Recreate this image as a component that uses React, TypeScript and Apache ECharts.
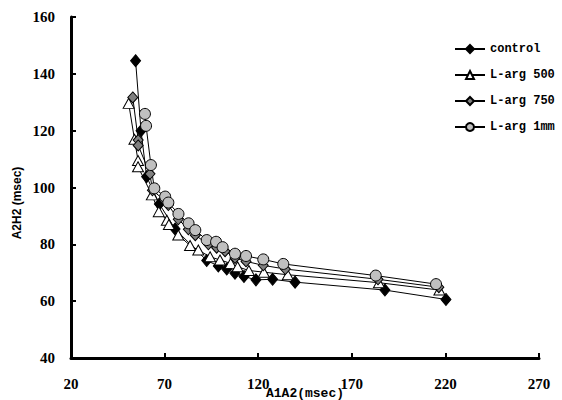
import React, { useEffect, useRef } from "react";
import * as echarts from "echarts";

const xTicks = [20, 70, 120, 170, 220, 270];
const yTicks = [40, 60, 80, 100, 120, 140, 160];

const seriesNames = ["control", "L-arg 500", "L-arg 750", "L-arg 1mm"];

const controlX = [54.5, 57.4, 60.4, 67.2, 75.6, 92.5, 98.7, 103.2, 107.6, 112.4, 118.8, 127.7, 139.7, 187.7, 220.3];
const controlY = [144.6, 120.0, 103.8, 94.2, 85.4, 74.3, 72.4, 71.3, 69.8, 68.7, 67.5, 67.7, 66.7, 63.9, 60.6];

const arg500X = [50.8, 53.9, 55.8, 55.8, 63.2, 66.9, 71.2, 72.3, 77.3, 83.6, 88.0, 94.3, 99.6, 105.3, 109.0, 115.0, 123.0, 135.8, 184.5, 216.8];
const arg500Y = [129.6, 117.0, 109.5, 107.3, 97.4, 91.5, 88.5, 87.0, 83.3, 79.6, 78.0, 75.6, 74.5, 73.3, 72.1, 70.8, 70.2, 69.3, 66.5, 63.9];

const arg750X = [53.0, 55.9, 55.9, 62.2, 63.5, 70.0, 72.0, 77.3, 82.7, 86.4, 93.4, 97.8, 102.3, 107.6, 113.5, 122.7, 134.5, 184.0, 216.5];
const arg750Y = [131.7, 116.7, 114.8, 104.8, 99.0, 95.5, 93.8, 88.8, 85.3, 83.2, 80.0, 78.8, 77.6, 75.2, 74.0, 72.6, 71.3, 67.7, 64.9];

const arg1mmX = [59.5, 60.1, 62.7, 64.5, 70.3, 72.0, 77.4, 82.8, 86.4, 92.5, 97.5, 101.0, 107.6, 113.5, 122.7, 133.4, 182.8, 215.0];
const arg1mmY = [125.9, 121.7, 107.9, 99.7, 96.8, 94.7, 90.7, 87.4, 85.0, 81.5, 80.9, 79.0, 76.7, 75.9, 74.7, 73.1, 69.0, 66.0];

const zip = (xs: number[], ys: number[]) => xs.map((x, i) => [x, ys[i]]);

const SERIF = "'Liberation Serif', 'Times New Roman', serif";
const MONO = "'Liberation Mono', 'Courier New', monospace";
const SANS = "'Liberation Sans', Arial, sans-serif";

export default function App() {
  const ref = useRef<HTMLDivElement>(null);
  useEffect(() => {
    document.body.style.margin = "0";
    const chart = echarts.init(ref.current!, null, { renderer: "svg" });
    const labelFont = {
      fontFamily: SERIF,
      fontWeight: "bold" as const,
      fontSize: 15,
      color: "#000",
    };
    const mk = (
      name: string,
      data: number[][],
      symbol: string,
      size: number | number[],
      fill: string
    ) => ({
      name,
      type: "line",
      data,
      symbol,
      symbolSize: size,
      showSymbol: true,
      lineStyle: { color: "#000", width: 1 },
      itemStyle: { color: fill, borderColor: "#000", borderWidth: 1 },
      emphasis: { disabled: true },
    });
    chart.setOption({
      animation: false,
      grid: { left: 71, right: 23, top: 17, bottom: 42, containLabel: false },
      legend: {
        orient: "vertical",
        left: 449,
        top: 38,
        itemWidth: 30,
        itemHeight: 10,
        itemGap: 14,
        data: seriesNames,
        textStyle: {
          fontFamily: MONO,
          fontWeight: "bold",
          fontSize: 12,
          color: "#000",
        },
      },
      xAxis: {
        type: "value",
        min: 20,
        max: 270,
        splitLine: { show: false },
        axisLine: { lineStyle: { color: "#000", width: 3 } },
        axisTick: {
          inside: true,
          length: 5,
          lineStyle: { color: "#000", width: 2 },
          customValues: xTicks,
        },
        axisLabel: { ...labelFont, margin: 18, customValues: xTicks },
      },
      yAxis: {
        type: "value",
        min: 40,
        max: 160,
        interval: 20,
        splitLine: { show: false },
        axisLine: { show: true, lineStyle: { color: "#000", width: 3 } },
        axisTick: {
          show: true,
          inside: true,
          length: 5,
          lineStyle: { color: "#000", width: 2 },
          customValues: yTicks,
        },
        axisLabel: { ...labelFont, margin: 16, customValues: yTicks },
      },
      graphic: [
        {
          type: "text",
          x: 305,
          y: 387,
          style: {
            text: "A1A2(msec)",
            fontFamily: MONO,
            fontWeight: "bold",
            fontSize: 13,
            fill: "#000",
            align: "center",
            verticalAlign: "top",
          },
        },
        {
          type: "text",
          x: 17,
          y: 203,
          rotation: Math.PI / 2,
          style: {
            text: "A2H2 (msec)",
            fontFamily: SANS,
            fontWeight: "bold",
            fontSize: 12,
            fill: "#000",
            align: "center",
            verticalAlign: "middle",
          },
        },
      ],
      series: [
        mk(seriesNames[0], zip(controlX, controlY), "diamond", [10, 12], "#000"),
        mk(seriesNames[1], zip(arg500X, arg500Y), "triangle", [11, 10], "#fff"),
        mk(seriesNames[2], zip(arg750X, arg750Y), "diamond", [10, 11], "#808080"),
        mk(seriesNames[3], zip(arg1mmX, arg1mmY), "circle", 11, "#c0c0c0"),
      ],
    });
    return () => chart.dispose();
  }, []);
  return <div ref={ref} style={{ width: 562, height: 400 }} />;
}
